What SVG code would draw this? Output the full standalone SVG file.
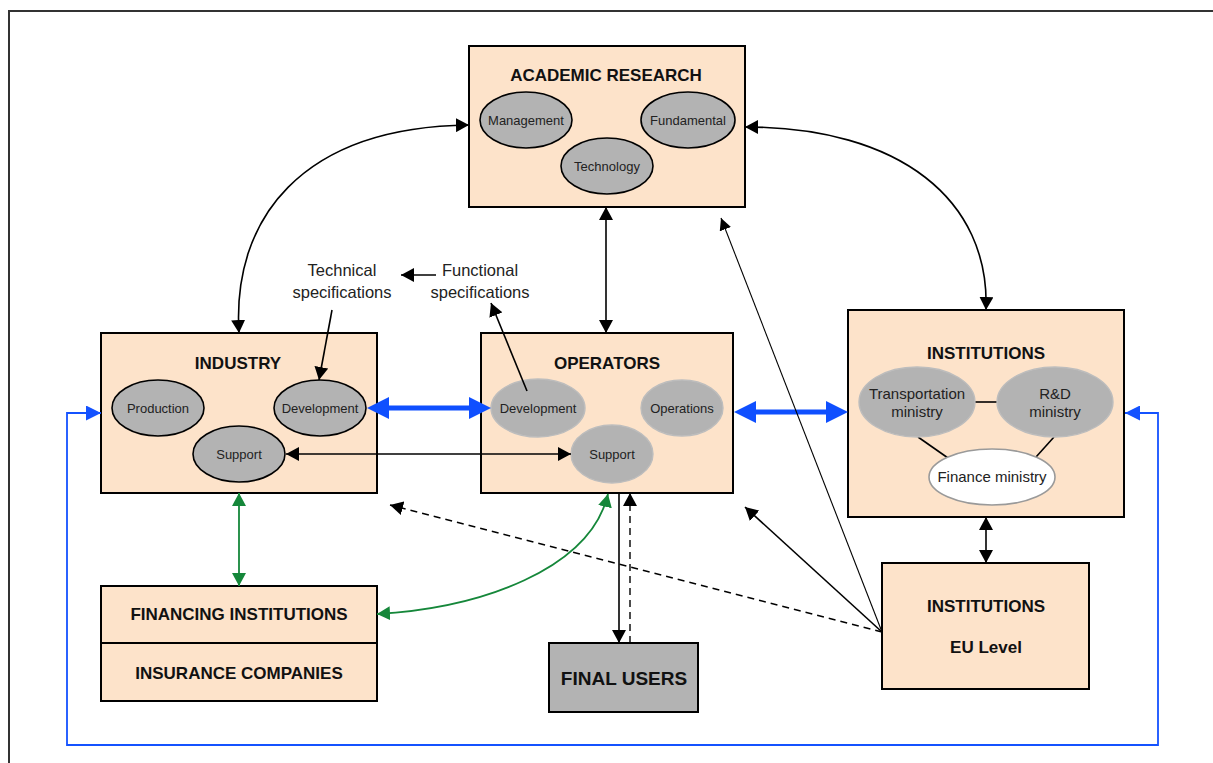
<svg xmlns="http://www.w3.org/2000/svg" width="1213" height="763" viewBox="0 0 1213 763">
  <defs>
    <style>
      .box { fill: #fde3ca; stroke: #000; stroke-width: 2; }
      .dark { fill: #b3b3b3; stroke: #000; stroke-width: 2; }
      .ell { fill: #b3b3b3; stroke: #000; stroke-width: 1.6; }
      .ell-soft { fill: #b3b3b3; stroke: #bdbdbd; stroke-width: 1.4; }
      .ell-white { fill: #fff; stroke: #9a9a9a; stroke-width: 1.6; }
      .title { font-family: "Liberation Sans", Arial, sans-serif; font-weight: bold; font-size: 17px; fill: #111; text-anchor: middle; dominant-baseline: central; }
      .lbl { font-family: "Liberation Sans", Arial, sans-serif; font-size: 13px; fill: #222; text-anchor: middle; dominant-baseline: central; }
      .lbl15 { font-family: "Liberation Sans", Arial, sans-serif; font-size: 15px; fill: #222; text-anchor: middle; }
      .note { font-family: "Liberation Sans", Arial, sans-serif; font-size: 16.5px; fill: #222; text-anchor: middle; }
      .blk { fill: none; stroke: #000; stroke-width: 1.6; }
      .thin { fill: none; stroke: #000; stroke-width: 1.1; }
      .dash { fill: none; stroke: #000; stroke-width: 1.4; stroke-dasharray: 7 5; }
      .grn { fill: none; stroke: #15873a; stroke-width: 1.8; }
      .blu { fill: none; stroke: #0f4fff; stroke-width: 5; }
      .blu-thin { fill: none; stroke: #1452ff; stroke-width: 1.8; }
      .link { stroke: #000; stroke-width: 1.6; }
    </style>
    <marker id="ah" viewBox="0 0 13 14" refX="13" refY="7" markerWidth="13" markerHeight="14" markerUnits="userSpaceOnUse" orient="auto-start-reverse">
      <path d="M0,0 L13,7 L0,14 z" fill="#000"/>
    </marker>
    <marker id="ah-sm" viewBox="0 0 12 12" refX="12" refY="6" markerWidth="12" markerHeight="12" markerUnits="userSpaceOnUse" orient="auto-start-reverse">
      <path d="M0,0 L12,6 L0,12 z" fill="#000"/>
    </marker>
    <marker id="ah-g" viewBox="0 0 13 14" refX="13" refY="7" markerWidth="13" markerHeight="14" markerUnits="userSpaceOnUse" orient="auto-start-reverse">
      <path d="M0,0 L13,7 L0,14 z" fill="#15873a"/>
    </marker>
    <marker id="ah-b" viewBox="0 0 22 22" refX="4" refY="11" markerWidth="22" markerHeight="22" markerUnits="userSpaceOnUse" orient="auto-start-reverse">
      <path d="M0,0 L22,11 L0,22 z" fill="#0f4fff"/>
    </marker>
    <marker id="ah-bt" viewBox="0 0 15 15" refX="15" refY="7.5" markerWidth="15" markerHeight="15" markerUnits="userSpaceOnUse" orient="auto-start-reverse">
      <path d="M0,0 L15,7.5 L0,15 z" fill="#1452ff"/>
    </marker>
  </defs>

  <rect width="1213" height="763" fill="#fff"/>
  <!-- page frame -->
  <path d="M9,763 L9,11 L1213,11" fill="none" stroke="#333" stroke-width="2"/>

  <g id="academic-research">
    <rect class="box" x="469" y="46" width="276" height="161"/>
    <text class="title" x="606" y="75">ACADEMIC RESEARCH</text>
    <ellipse class="ell" cx="526" cy="120" rx="46" ry="28"/>
    <text class="lbl" x="526" y="120">Management</text>
    <ellipse class="ell" cx="688" cy="120" rx="47" ry="28"/>
    <text class="lbl" x="688" y="120">Fundamental</text>
    <ellipse class="ell" cx="607" cy="166" rx="46" ry="28"/>
    <text class="lbl" x="607" y="166">Technology</text>
  </g>

  <g id="industry">
    <rect class="box" x="101" y="333" width="276" height="160"/>
    <text class="title" x="238" y="363">INDUSTRY</text>
    <ellipse class="ell" cx="158" cy="408" rx="46" ry="28"/>
    <text class="lbl" x="158" y="408">Production</text>
    <ellipse class="ell" cx="320" cy="408" rx="46" ry="28"/>
    <text class="lbl" x="320" y="408">Development</text>
    <ellipse class="ell" cx="239" cy="454" rx="46" ry="28"/>
    <text class="lbl" x="239" y="454">Support</text>
  </g>

  <g id="operators">
    <rect class="box" x="481" y="333" width="252" height="160"/>
    <text class="title" x="607" y="363">OPERATORS</text>
    <ellipse class="ell-soft" cx="538" cy="408" rx="47" ry="29"/>
    <text class="lbl" x="538" y="408">Development</text>
    <ellipse class="ell-soft" cx="682" cy="408" rx="41" ry="28"/>
    <text class="lbl" x="682" y="408">Operations</text>
    <ellipse class="ell-soft" cx="612" cy="454" rx="41" ry="29"/>
    <text class="lbl" x="612" y="454">Support</text>
  </g>

  <g id="institutions">
    <rect class="box" x="848" y="310" width="276" height="207"/>
    <text class="title" x="986" y="353">INSTITUTIONS</text>
    <line class="link" x1="975" y1="402" x2="997" y2="402"/>
    <line class="link" x1="918" y1="437" x2="948" y2="458"/>
    <line class="link" x1="1054" y1="437" x2="1036" y2="457"/>
    <ellipse class="ell-soft" cx="917" cy="402" rx="58" ry="35"/>
    <text class="lbl15" x="917" y="399">Transportation</text>
    <text class="lbl15" x="917" y="417">ministry</text>
    <ellipse class="ell-soft" cx="1055" cy="402" rx="58" ry="35"/>
    <text class="lbl15" x="1055" y="399">R&amp;D</text>
    <text class="lbl15" x="1055" y="417">ministry</text>
    <ellipse class="ell-white" cx="992" cy="477" rx="63" ry="28"/>
    <text class="lbl15" x="992" y="482">Finance ministry</text>
  </g>

  <g id="institutions-eu">
    <rect class="box" x="882" y="563" width="207" height="126"/>
    <text class="title" x="986" y="606">INSTITUTIONS</text>
    <text class="title" x="986" y="647">EU Level</text>
  </g>

  <g id="financing">
    <rect class="box" x="101" y="586" width="276" height="115"/>
    <line x1="101" y1="643" x2="377" y2="643" stroke="#000" stroke-width="2"/>
    <text class="title" x="239" y="614">FINANCING INSTITUTIONS</text>
    <text class="title" x="239" y="673">INSURANCE COMPANIES</text>
  </g>

  <g id="final-users">
    <rect class="dark" x="549" y="643" width="149" height="69"/>
    <text class="title" x="624" y="678" style="font-size:19px">FINAL USERS</text>
  </g>

  <g id="spec-notes">
    <text class="note" x="342" y="276">Technical</text>
    <text class="note" x="342" y="298">specifications</text>
    <text class="note" x="480" y="276">Functional</text>
    <text class="note" x="480" y="298">specifications</text>
  </g>

  <!-- connectors, drawn over the boxes -->
  <g id="connectors">
    <!-- feedback loop round the whole system -->
    <polyline class="blu-thin" points="101,413 67,413 67,745 1158,745 1158,413 1125,413" marker-start="url(#ah-bt)" marker-end="url(#ah-bt)"/>
    <path class="blk" d="M239,333 C232,220 300,127 469,125" marker-start="url(#ah)" marker-end="url(#ah)"/>
    <path class="blk" d="M745,127 C900,127 990,200 986,310" marker-start="url(#ah)" marker-end="url(#ah)"/>
    <line class="blk" x1="606" y1="207" x2="606" y2="333" marker-start="url(#ah)" marker-end="url(#ah)"/>
    <line class="blu" x1="385" y1="408" x2="473" y2="408" marker-start="url(#ah-b)" marker-end="url(#ah-b)"/>
    <line class="blu" x1="752" y1="412" x2="830" y2="412" marker-start="url(#ah-b)" marker-end="url(#ah-b)"/>
    <line class="blk" x1="286" y1="454" x2="571" y2="454" marker-start="url(#ah)" marker-end="url(#ah)"/>
    <line class="blk" x1="332" y1="310" x2="319" y2="380" marker-end="url(#ah)"/>
    <line class="blk" x1="436" y1="275" x2="401" y2="275" marker-end="url(#ah)"/>
    <line class="blk" x1="527" y1="391" x2="491" y2="303" marker-end="url(#ah)"/>
    <line class="grn" x1="239" y1="493" x2="239" y2="586" marker-start="url(#ah-g)" marker-end="url(#ah-g)"/>
    <path class="grn" d="M377,614 C480,608 590,570 608,494" marker-start="url(#ah-g)" marker-end="url(#ah-g)"/>
    <line class="blk" x1="619" y1="493" x2="619" y2="643" marker-end="url(#ah)"/>
    <line class="dash" x1="630" y1="643" x2="630" y2="493" marker-end="url(#ah)"/>
    <line class="dash" x1="882" y1="632" x2="390" y2="505" marker-end="url(#ah)"/>
    <line class="blk" x1="882" y1="632" x2="745" y2="507" marker-end="url(#ah)"/>
    <line class="thin" x1="882" y1="632" x2="721" y2="218" marker-end="url(#ah-sm)"/>
    <line class="blk" x1="986" y1="517" x2="986" y2="563" marker-start="url(#ah)" marker-end="url(#ah)"/>
  </g>
</svg>
